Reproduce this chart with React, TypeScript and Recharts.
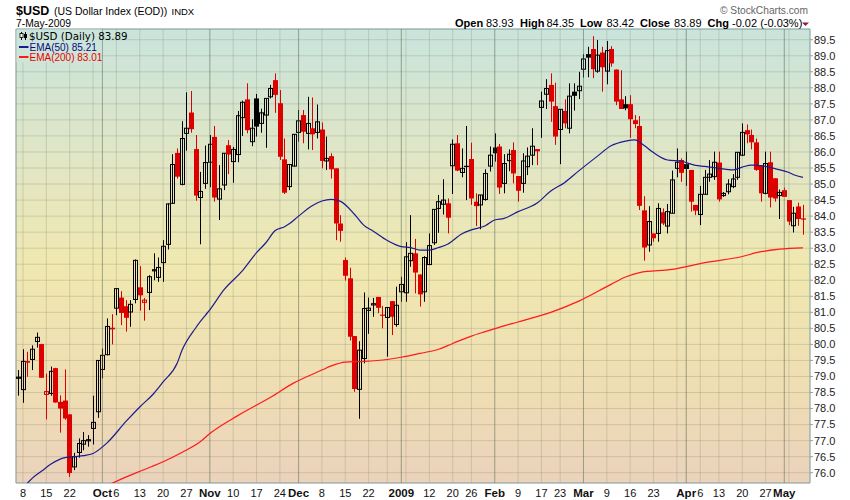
import React from 'react'
import {
  Bar,
  CartesianGrid,
  ComposedChart,
  Line,
  ReferenceArea,
  ReferenceLine,
  XAxis,
  YAxis,
} from 'recharts'

// $USD daily, 5-Sep-2008 .. 7-May-2009 (one entry per trading day)
const opens = [
  78.95, 78.59, 79.48, 79.53, 80.09, 80.01, 78.44, 78.47, 79.26, 78.21,
  78.25, 77.82, 76.18, 76.63, 76.89, 77.0, 77.38, 77.9, 79.22, 79.68,
  80.52, 81.13, 81.46, 81.19, 81.01, 81.4, 81.78, 81.31, 81.62, 82.3,
  82.09, 82.55, 83.12, 84.4, 85.97, 84.99, 86.58, 87.23, 86.09, 84.58,
  85.02, 85.68, 86.47, 84.53, 84.97, 86.21, 85.7, 85.92, 87.07, 87.64,
  86.32, 87.67, 86.89, 87.15, 87.72, 88.24, 87.52, 85.77, 84.92, 85.56,
  86.61, 87.15, 86.58, 86.74, 86.61, 86.7, 85.72, 85.87, 85.49, 83.77,
  82.63, 82.06, 80.26, 78.6, 79.56, 81.06, 81.23, 81.48, 80.93, 80.84,
  81.35, 80.62, 81.64, 81.61, 82.61, 82.84, 82.18, 81.64, 82.49, 83.17,
  84.24, 84.37, 84.4, 85.57, 86.27, 85.36, 85.57, 85.78, 84.45, 84.35,
  84.52, 85.56, 86.14, 86.17, 85.02, 85.73, 86.06, 85.25, 85.02, 85.54,
  85.9, 86.09, 87.39, 87.8, 88.09, 87.43, 86.7, 87.28, 86.74, 87.88,
  87.91, 88.58, 89.05, 89.21, 88.52, 89.1, 88.52, 89.21, 88.57, 87.64,
  87.49, 87.49, 86.99, 86.81, 84.18, 83.1, 83.46, 83.46, 84.12, 83.69,
  84.09, 85.49, 85.75, 85.62, 85.44, 84.35, 84.05, 84.68, 85.21, 85.23,
  85.67, 84.64, 84.76, 84.92, 85.21, 85.9, 86.68, 86.53, 86.3, 85.59,
  84.71, 85.68, 85.18, 84.64, 84.81, 84.5, 83.7, 84.3, 83.93,
]
const highs = [
  79.2, 79.85, 79.77, 79.97, 80.37, 80.02, 79.09, 79.31, 79.27, 78.41,
  79.22, 77.82, 76.62, 77.07, 77.27, 77.17, 78.4, 79.5, 79.87, 80.81,
  80.94, 81.74, 81.66, 81.38, 81.38, 82.65, 82.44, 81.45, 82.16, 82.84,
  82.71, 83.25, 84.4, 85.93, 86.11, 86.96, 87.86, 87.9, 86.53, 85.38,
  86.2, 86.53, 86.81, 85.59, 85.96, 86.37, 86.16, 87.28, 87.6, 88.14,
  87.02, 87.81, 87.35, 87.67, 88.09, 88.45, 87.93, 86.42, 85.61, 86.55,
  87.31, 87.31, 87.72, 87.7, 87.48, 86.92, 86.48, 85.96, 85.49, 84.03,
  82.71, 82.39, 80.26, 80.1, 81.62, 81.46, 81.45, 81.48, 81.2, 81.15,
  81.35, 81.8, 82.11, 83.19, 84.03, 83.29, 82.18, 82.75, 83.46, 84.21,
  84.66, 85.15, 84.55, 86.39, 86.53, 86.11, 86.81, 86.29, 84.71, 84.66,
  85.46, 86.17, 86.58, 86.25, 85.93, 86.08, 86.3, 85.25, 85.96, 86.14,
  86.74, 86.09, 87.88, 88.27, 88.45, 88.16, 87.33, 87.64, 88.14, 88.14,
  88.5, 89.05, 89.28, 89.61, 89.49, 89.28, 89.46, 89.3, 88.57, 88.55,
  87.74, 87.77, 87.15, 87.12, 84.62, 84.31, 83.46, 84.4, 84.24, 84.38,
  85.42, 86.11, 85.8, 86.01, 85.44, 84.35, 84.94, 85.44, 85.75, 86.01,
  86.01, 84.75, 85.15, 85.31, 85.99, 86.89, 86.86, 86.7, 86.42, 85.59,
  86.01, 86.01, 85.18, 84.83, 84.89, 84.5, 84.29, 84.42, 84.35,
]
const lows = [
  78.4, 78.18, 78.99, 79.2, 79.9, 78.95, 77.66, 78.4, 78.18, 77.25,
  77.65, 75.87, 76.08, 76.47, 76.7, 76.81, 76.88, 77.71, 78.94, 79.66,
  80.0, 80.91, 80.6, 80.4, 80.55, 81.28, 81.05, 80.74, 81.07, 82.0,
  81.95, 81.95, 82.96, 84.38, 85.17, 84.96, 86.04, 86.6, 84.48, 83.12,
  84.85, 84.9, 84.45, 83.88, 84.81, 85.31, 85.04, 85.68, 86.5, 86.58,
  86.18, 86.48, 86.6, 86.13, 87.67, 87.22, 85.75, 84.69, 84.81, 85.54,
  86.32, 86.27, 86.08, 86.06, 86.42, 85.49, 85.44, 85.17, 83.25, 83.2,
  81.99, 80.12, 78.52, 77.68, 79.41, 80.33, 80.86, 80.97, 80.5, 79.62,
  80.29, 80.55, 81.33, 81.33, 82.42, 81.59, 81.18, 81.33, 82.47, 83.1,
  83.48, 84.05, 83.46, 84.69, 85.4, 85.21, 84.5, 84.35, 83.69, 83.59,
  84.48, 85.39, 85.7, 84.69, 84.71, 85.4, 85.02, 84.45, 84.73, 85.28,
  85.59, 85.59, 86.44, 87.34, 86.94, 86.22, 85.62, 86.74, 86.58, 87.29,
  87.65, 88.32, 88.33, 88.3, 88.47, 87.88, 88.11, 88.66, 87.46, 87.34,
  87.3, 86.44, 86.74, 84.19, 82.61, 82.89, 83.2, 83.2, 83.72, 83.46,
  84.09, 85.21, 85.07, 84.94, 84.14, 84.03, 83.72, 84.68, 85.07, 85.13,
  84.45, 84.6, 84.68, 84.87, 85.13, 85.87, 86.27, 86.08, 85.41, 84.45,
  84.68, 84.27, 84.45, 83.91, 84.6, 83.72, 83.49, 83.7, 83.42,
]
const closes = [
  78.98, 79.47, 79.43, 79.85, 80.22, 78.96, 78.53, 79.16, 78.19, 78.0,
  77.69, 75.99, 76.5, 76.91, 77.0, 77.03, 77.57, 79.5, 79.66, 80.56,
  80.47, 81.74, 80.98, 80.83, 81.25, 82.62, 81.53, 81.38, 82.11, 82.33,
  82.4, 83.06, 84.38, 85.61, 85.23, 86.42, 86.74, 86.71, 84.64, 84.77,
  85.67, 86.24, 84.58, 84.85, 85.96, 85.92, 86.08, 87.13, 87.55, 86.68,
  86.74, 86.79, 87.22, 87.67, 87.98, 87.78, 85.85, 84.73, 85.61, 86.55,
  86.97, 86.63, 86.89, 86.55, 86.94, 85.72, 85.8, 85.46, 83.77, 83.54,
  82.14, 80.24, 78.61, 79.82, 81.12, 81.13, 81.27, 81.14, 80.9, 81.15,
  80.86, 81.22, 81.87, 82.73, 82.84, 82.24, 81.56, 82.71, 83.08, 84.21,
  84.45, 84.5, 83.95, 86.24, 85.42, 85.49, 85.53, 84.55, 84.31, 84.66,
  85.33, 85.9, 85.96, 84.89, 85.64, 85.93, 85.33, 84.79, 85.72, 85.87,
  86.18, 86.02, 87.59, 87.98, 87.57, 86.48, 87.33, 86.89, 87.74, 87.75,
  88.05, 88.9, 88.94, 88.58, 89.02, 88.64, 89.16, 88.76, 87.57, 87.34,
  87.36, 87.02, 86.87, 84.32, 83.02, 83.83, 83.31, 84.24, 83.77, 84.14,
  85.13, 85.68, 85.35, 85.47, 84.45, 84.17, 84.68, 85.21, 85.31, 85.68,
  84.52, 84.71, 85.0, 85.16, 85.99, 86.61, 86.55, 86.3, 85.44, 84.71,
  85.64, 84.58, 84.55, 84.74, 84.6, 83.83, 84.09, 83.91, 83.89,
]

// moving averages: [trading-day index, value]
const ema50Points: [number, number][] = [
  [1, 75.52], [3, 75.83], [5, 76.05], [7, 76.27], [10, 76.47], [12, 76.5],
  [14, 76.53], [16, 76.6], [19, 76.93], [23, 77.59], [26, 78.05], [29, 78.47],
  [31, 78.83], [34, 79.41], [35, 79.8], [38, 80.52], [40, 80.9], [41, 81.08],
  [44, 81.7], [48, 82.3], [51, 82.86], [53, 83.17], [55, 83.55], [57, 83.67],
  [58, 83.76], [60, 84.0], [63, 84.33], [65, 84.47], [67, 84.52], [69, 84.46],
  [72, 84.05], [74, 83.71], [76, 83.53], [79, 83.24], [82, 83.05], [84, 83.02],
  [86, 82.94], [88, 82.94], [90, 83.02], [92, 83.13], [95, 83.45], [97, 83.57],
  [100, 83.7], [102, 83.88], [104, 83.93], [107, 84.14], [111, 84.4], [114, 84.78],
  [117, 85.05], [120, 85.41], [124, 85.87], [127, 86.2], [130, 86.34], [132, 86.38],
  [134, 86.2], [136, 85.98], [139, 85.75], [142, 85.71], [145, 85.58], [147, 85.55],
  [150, 85.49], [153, 85.44], [155, 85.53], [157, 85.59], [160, 85.55], [162, 85.48],
  [165, 85.36], [166, 85.29], [168, 85.21],
]
const ema200Points: [number, number][] = [
  [19, 75.6], [22, 75.8], [27, 76.1], [31, 76.34], [35, 76.63], [39, 76.97],
  [41, 77.22], [47, 77.78], [54, 78.35], [59, 78.8], [65, 79.2], [67, 79.33],
  [70, 79.45], [74, 79.47], [79, 79.53], [82, 79.6], [86, 79.72], [90, 79.85],
  [93, 80.03], [97, 80.26], [100, 80.4], [104, 80.58], [107, 80.7], [114, 81.0],
  [120, 81.35], [127, 81.88], [130, 82.1], [133, 82.24], [140, 82.34], [147, 82.55],
  [155, 82.74], [158, 82.86], [163, 82.97], [168, 83.01],
]

// weekly grid / date labels
const axisTicks = [
  1, 6, 11, 16, 18, 21, 26, 31, 36, 41, 46, 51, 56, 60, 65, 70, 75, 79, 82, 83,
  88, 93, 97, 102, 107, 112, 116, 121, 126, 131, 136, 141, 143, 146, 150, 155,
  160, 164, 165,
]
const axisLabels = [
  '8', '15', '22', '', 'Oct', '6', '13', '20', '27', 'Nov', '10', '17', '24', 'Dec',
  '8', '15', '22', '', '2009', '', '12', '20', '26', 'Feb', '9', '17', '23', 'Mar',
  '9', '16', '23', '', 'Apr', '6', '13', '20', '27', 'May', '',
]
const monthStarts = [18, 41, 60, 82, 102, 121, 143, 164]
const priceTicks = Array.from({ length: 28 }, (_, k) => 76 + k * 0.5)

const FONT = "'Liberation Sans', Arial, sans-serif"
const RED = '#dd0000'
const Y_MIN = 75.679
const Y_MAX = 89.834

const gradStops = [
  ['0%', '#c9e4dc'],
  ['30%', '#e2e6c4'],
  ['52%', '#f0e8b0'],
  ['78%', '#efdeb3'],
  ['100%', '#ebd2bc'],
]

function Candle(props: any) {
  const { x, y, width, height, payload } = props
  if (x == null || y == null) return null
  const { o, h, l, c, pc } = payload
  const cx = Math.round(x + width / 2)
  const k = h > l ? height / (h - l) : 0
  const yOf = (v: number) => y + (h - v) * k
  const color = pc == null || c >= pc ? '#000' : RED
  const hollow = c > o
  const top = yOf(Math.max(o, c))
  let bot = yOf(Math.min(o, c))
  if (bot - top < 1.2) bot = top + 1.2
  return (
    <g>
      <line x1={cx + 0.5} x2={cx + 0.5} y1={y} y2={y + height} stroke={color} strokeWidth={1} />
      {hollow ? (
        <rect x={cx - 1.5} y={top} width={4} height={bot - top} fill="none" stroke={color} strokeWidth={1} />
      ) : (
        <rect x={cx - 2} y={top} width={5} height={bot - top} fill={color} />
      )}
    </g>
  )
}

function DateTick(props: any) {
  const { x, y, payload } = props
  const k = axisTicks.indexOf(payload.value)
  const label = k >= 0 ? axisLabels[k] : ''
  if (!label) return null
  const bold = monthStarts.includes(payload.value)
  return (
    <text
      x={x}
      y={y + 12}
      textAnchor="middle"
      fontFamily={FONT}
      fontSize={bold ? 11.5 : 11}
      fontWeight={bold ? 700 : 400}
      fill="#111"
    >
      {label}
    </text>
  )
}

export default function App() {
  const e50 = new Map(ema50Points)
  const e200 = new Map(ema200Points)
  const rows = opens.map((o, i) => ({
    i,
    o,
    h: highs[i],
    l: lows[i],
    c: closes[i],
    pc: i > 0 ? closes[i - 1] : null,
    hl: [lows[i], highs[i]],
    ema50: e50.has(i) ? e50.get(i) : null,
    ema200: e200.has(i) ? e200.get(i) : null,
  }))

  const quote: [string, number, boolean][] = [
    ['Open', 455, true], ['83.93', 486, false],
    ['High', 520, true], ['84.35', 546.5, false],
    ['Low', 580, true], ['83.42', 606.5, false],
    ['Close', 640, true], ['83.89', 674, false],
    ['Chg', 707.5, true], ['-0.02 (-0.03%)', 732, false],
  ]

  return (
    <div style={{ position: 'absolute', left: 0, top: 0, width: 850, height: 500, background: '#fff' }}>
      <ComposedChart
        width={850}
        height={500}
        data={rows}
        margin={{ top: 29, right: 0, bottom: 0, left: 16 }}
      >
        <defs>
          <linearGradient id="bgGrad" x1="0" y1="0" x2="0" y2="1">
            {gradStops.map(([o, c]) => (
              <stop key={o} offset={o} stopColor={c} />
            ))}
          </linearGradient>
        </defs>
        <CartesianGrid
          fill="url(#bgGrad)"
          fillOpacity={1}
          stroke="rgba(110,122,100,0.24)"
          strokeWidth={1}
        />
        <XAxis
          type="number"
          dataKey="i"
          domain={[-0.5, 169.5]}
          allowDataOverflow
          ticks={axisTicks}
          interval={0}
          height={17}
          tickSize={0}
          tickLine={false}
          axisLine={false}
          tick={<DateTick />}
        />
        <YAxis
          orientation="right"
          domain={[Y_MIN, Y_MAX]}
          allowDataOverflow
          ticks={priceTicks}
          interval={0}
          width={40}
          tickSize={3}
          tickMargin={1}
          axisLine={false}
          tickLine={{ stroke: '#8aa6a6' }}
          tickFormatter={(v: number) => v.toFixed(1)}
          tick={{ fontSize: 11, fontFamily: FONT, fill: '#222' }}
        />
        {monthStarts.map((m) => (
          <ReferenceLine key={m} x={m} stroke="rgba(95,110,88,0.42)" strokeWidth={1} />
        ))}
        <Line
          type="monotone"
          dataKey="ema200"
          stroke="#ff1a1a"
          strokeWidth={1.2}
          dot={false}
          connectNulls
          isAnimationActive={false}
        />
        <Line
          type="monotone"
          dataKey="ema50"
          stroke="#1c1c8e"
          strokeWidth={1.2}
          dot={false}
          connectNulls
          isAnimationActive={false}
        />
        <Bar dataKey="hl" barSize={5} shape={(p: any) => <Candle {...p} />} isAnimationActive={false} />
        <ReferenceArea
          x1={-0.5}
          x2={169.5}
          y1={Y_MIN}
          y2={Y_MAX}
          fill="none"
          stroke="#8aa6a6"
          strokeWidth={1}
        />
      </ComposedChart>

      <svg
        width={850}
        height={500}
        style={{ position: 'absolute', left: 0, top: 0, pointerEvents: 'none' }}
      >
        <defs>
          <linearGradient id="bgGrad2" gradientUnits="userSpaceOnUse" x1="0" y1="29" x2="0" y2="483">
            {gradStops.map(([o, c]) => (
              <stop key={o} offset={o} stopColor={c} />
            ))}
          </linearGradient>
        </defs>
        <text x={16} y={14.5} fontFamily={FONT} fill="#000">
          <tspan fontSize={12.5} fontWeight={700}>$USD</tspan>
          <tspan x={54} fontSize={10.5}>(US Dollar Index (EOD))</tspan>
          <tspan x={171.5} fontSize={9.5}>INDX</tspan>
        </text>
        <text x={16} y={26.5} fontFamily={FONT} fontSize={10.3} fill="#000">
          7-May-2009
        </text>
        <text
          x={720}
          y={13.5}
          fontFamily={FONT}
          fontSize={10.5}
          fill="#666"
          textLength={88}
          lengthAdjust="spacingAndGlyphs"
        >
          © StockCharts.com
        </text>
        {quote.map(([t, x, b]) => (
          <text key={t + x} x={x} y={27} fontFamily={FONT} fontSize={11} fontWeight={b ? 700 : 400} fill="#000">
            {t}
          </text>
        ))}
        <polygon points="802,22.5 809,22.5 805.5,26" fill="#8b1c3c" />

        <rect x={16.5} y={29.5} width={85} height={33} fill="url(#bgGrad2)" />
        <line x1={21.5} x2={21.5} y1={32} y2={40} stroke="#000" />
        <rect x={20} y={33.5} width={3} height={4} fill="#fff" stroke="#000" strokeWidth={0.8} />
        <line x1={25.5} x2={25.5} y1={32} y2={40} stroke="#000" />
        <rect x={24} y={34} width={3} height={4} fill="#000" />
        <text x={29} y={39.5} fontFamily="'DejaVu Sans', sans-serif" fontSize={10.3} fill="#000">
          $USD (Daily) 83.89
        </text>
        <line x1={19} x2={28.5} y1={47} y2={47} stroke="#1c1c8e" strokeWidth={2} />
        <text x={29.5} y={50.5} fontFamily={FONT} fontSize={10} fill="#0a0a80">
          EMA(50) 85.21
        </text>
        <line x1={19} x2={28.5} y1={57} y2={57} stroke="#ff1a1a" strokeWidth={2} />
        <text x={29.5} y={60.5} fontFamily={FONT} fontSize={10} fill="#e60000">
          EMA(200) 83.01
        </text>
      </svg>
    </div>
  )
}
